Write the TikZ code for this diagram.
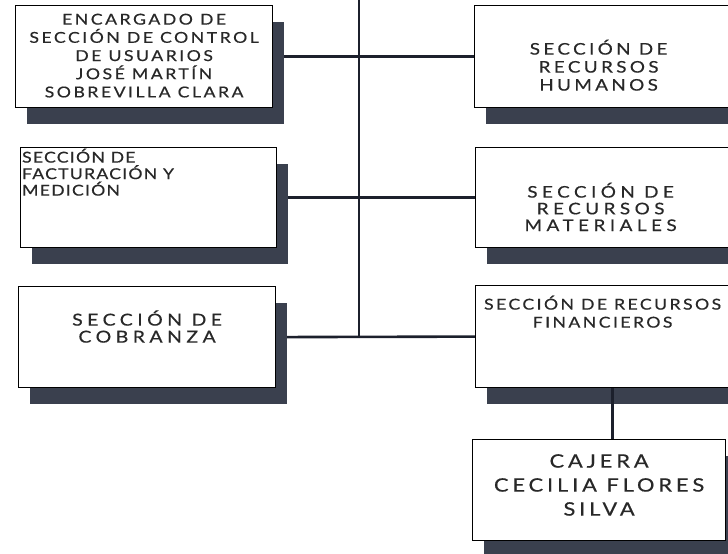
\documentclass[tikz,border=0pt]{standalone}
\usepackage{fontspec}
\setmainfont{Lato}[FakeStretch=1.18, FakeBold=0.5]
\usetikzlibrary{shadows,backgrounds}

\definecolor{sombra}{RGB}{58,64,78}
\definecolor{linea}{RGB}{28,32,44}
\definecolor{letra}{RGB}{40,40,40}

% ancho, alto, primera linea, texto
\newcommand{\cajatexto}[5][\centering]{\parbox[c][#3][t]{#2}{#1\rule{0pt}{#4}#5}}
\newcommand{\letras}[3]{\fontsize{#1}{#2}\selectfont\addfontfeatures{LetterSpace=#3}}

\tikzset{
  caja/.style={draw=black, line width=1.2pt, fill=white, inner sep=0pt, anchor=north west, text=letra,
    drop shadow={shadow xshift=11pt, shadow yshift=-16pt, fill=sombra, opacity=1}},
  enlace/.style={draw=linea, line width=2.6pt}
}

\begin{document}
\begin{tikzpicture}[x=1pt,y=-1pt]
            \path[use as bounding box, clip] (0,0) rectangle (728,554);

            \node[caja, font=\letras{15}{18.2}{16.5}] (usr) at (15,5)
              {\cajatexto{257pt}{102pt}{19pt}{ENCARGADO DE\\SECCIÓN DE CONTROL\\DE USUARIOS\\JOSÉ MARTÍN\\SOBREVILLA CLARA}};
            \node[caja, font=\letras{15}{16.5}{8}] (fac) at (20,147)
              {\cajatexto[\raggedright]{256pt}{100pt}{15pt}{\hspace*{1.5pt}SECCIÓN DE\\\hspace*{1.5pt}FACTURACIÓN Y\\\hspace*{1.5pt}MEDICIÓN}};
            \node[caja, font=\letras{16.5}{17}{27}] (cob) at (18,286)
              {\cajatexto{257pt}{101pt}{39pt}{SECCIÓN DE\\COBRANZA}};

            \node[caja, font=\letras{16}{18}{21}] (rh) at (474,5)
              {\cajatexto{248pt}{102pt}{49pt}{SECCIÓN DE\\RECURSOS\\HUMANOS}\hspace*{60pt}};
            \node[caja, font=\letras{16}{16.7}{28}] (rm) at (475,147)
              {\cajatexto{250pt}{100pt}{50pt}{SECCIÓN DE\\RECURSOS\\MATERIALES}\hspace*{60pt}};
            \node[caja, font=\letras{15}{18}{16}] (rf) at (475,285)
              {\cajatexto{254pt}{102pt}{24pt}{SECCIÓN DE RECURSOS\\FINANCIEROS}\hspace*{60pt}};
            \node[caja, font=\letras{18.5}{24}{21}] (caj) at (472,439)
              {\cajatexto{253pt}{101pt}{28pt}{CAJERA\\CECILIA FLORES\\SILVA}};

            \coordinate (arriba) at (359,-10);
            \begin{pgfonlayer}{background}
            \draw[enlace] (arriba) -- (arriba |- cob.east);
            \draw[enlace] (usr.east) -- (rh.west);
            \draw[enlace] (fac.east) -- (rm.west);
            \draw[enlace] (cob.east) -- (rf.west);
            \end{pgfonlayer}
            \draw[enlace] ([xshift=13.5pt]caj.north) -- ([xshift=13.5pt]caj.north |- rf.south);
\end{tikzpicture}
\end{document}
